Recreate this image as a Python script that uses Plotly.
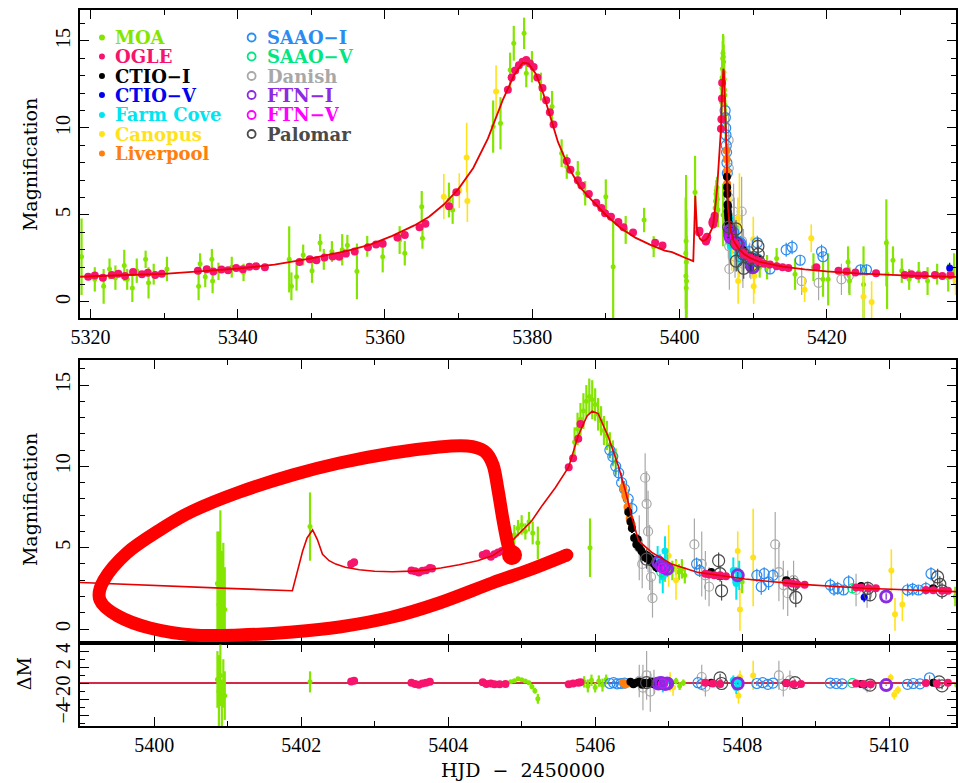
import plotly.graph_objects as go

# ---------------- model light curve ----------------
model_t = [5318.6, 5320, 5325, 5330, 5335, 5340, 5345, 5350, 5355, 5358, 5361, 5364, 5366, 5368,
           5370, 5372, 5374, 5376, 5377.5, 5378.7, 5379.5, 5380.5, 5381.5, 5382.5, 5383.5, 5385,
           5386.5, 5388, 5390, 5392, 5394, 5396, 5398, 5399, 5400, 5401, 5401.88, 5401.95, 5402.02,
           5402.08, 5402.155, 5402.22, 5402.29, 5402.38, 5402.47, 5402.6, 5402.79, 5403.0, 5403.24,
           5403.5, 5403.69, 5403.9, 5404.15, 5404.4, 5404.6, 5404.8, 5404.96, 5405.14, 5405.28,
           5405.46, 5405.64, 5405.77, 5405.89, 5405.96, 5406.04, 5406.18, 5406.32, 5406.41, 5406.5,
           5406.59, 5406.77, 5407.04, 5407.4, 5408.04, 5408.76, 5409.66, 5410.9, 5412, 5414, 5417,
           5420, 5424, 5428, 5432, 5438]
model_A = [1.45, 1.48, 1.55, 1.62, 1.75, 1.92, 2.15, 2.5, 2.95, 3.3, 3.8, 4.4, 4.9, 5.6,
           6.5, 7.7, 9.4, 11.6, 13.0, 13.75, 13.7, 13.1, 12.0, 10.6, 9.2, 7.7,
           6.6, 5.9, 5.0, 4.25, 3.7, 3.3, 2.95, 2.86, 2.7, 2.5, 2.35, 3.5, 4.8,
           5.6, 6.1, 5.5, 4.6, 4.2, 3.99, 3.8, 3.64, 3.55, 3.52,
           3.56, 3.62, 3.75, 3.95, 4.2, 4.5, 5.1, 5.84, 6.67, 7.6,
           8.7, 9.96, 11.9, 13.1, 13.4, 13.25, 11.8, 9.96, 8.52, 6.87,
           5.43, 4.71, 3.99, 3.48, 3.07, 2.76, 2.51, 2.30, 2.2, 2.03, 1.88,
           1.76, 1.65, 1.57, 1.5, 1.44]

# ---------------- MOA ----------------
moa_t = [5318.8, 5320.6, 5321.8, 5322.6, 5323.4, 5324.6, 5325.0, 5325.7, 5326.3, 5327.5, 5327.9,
         5328.6, 5330.4, 5334.7, 5334.9, 5335.6, 5336.5, 5336.6, 5337.4, 5339.2, 5340.8, 5347.0,
         5347.3, 5348.0, 5348.9, 5350.1, 5351.2, 5351.7, 5352.8, 5354.2, 5354.9, 5356.2, 5357.6,
         5359.7, 5362.0, 5362.7, 5365.0, 5365.1, 5368.7, 5369.2, 5374.7, 5375.7, 5377.0, 5377.5,
         5378.9, 5379.2, 5379.97, 5381.2, 5382.7, 5384.0, 5384.7, 5386.2, 5387.2, 5390.0, 5391.0,
         5392.7, 5395.2, 5396.5,
         5400.86, 5400.88, 5400.90, 5400.92, 5400.94, 5400.96, 5402.12,
         5404.85, 5404.90, 5404.95, 5405.00, 5405.05, 5405.10, 5405.15, 5405.22, 5405.93,
         5405.72, 5405.76, 5405.80, 5405.84, 5405.88, 5405.92, 5405.96, 5406.00, 5406.04, 5406.08,
         5406.12, 5406.16, 5406.20, 5406.24, 5406.28,
         5406.95, 5407.05, 5407.10, 5407.14, 5407.18, 5407.22, 5407.95, 5408.00, 5410.9,
         5411.9, 5413.2, 5415.7, 5418.2, 5419.5, 5420.2, 5422.9, 5423.1, 5425.0, 5428.1, 5428.2,
         5429.0, 5430.2, 5431.2, 5432.5, 5433.7, 5435.0, 5436.5, 5437.3]
moa_A = [2.6, 1.3, 0.9, 1.9, 1.4, 2.1, 1.3, 0.8, 1.8, 2.45, 1.1,
         1.6, 1.9, 0.9, 2.2, 1.45, 2.45, 1.2, 1.76, 2.0, 1.7, 2.45,
         0.9, 1.45, 2.7, 1.8, 3.4, 2.45, 2.9, 3.0, 3.26, 1.76, 3.2,
         2.6, 3.56, 2.8, 5.48, 3.66, 5.86, 5.29, 10.08, 10.27, 13.33, 14.87,
         15.44, 13.14, 13.52, 12.38, 11.23, 8.55, 7.78, 7.4, 6.25, 6.05, 2.03,
         4.14, 4.71, 3.18,
         2.8, 1.5, 3.5, 0.8, 2.3, 1.2, 6.3,
         5.4, 5.8, 6.2, 6.4, 6.0, 6.6, 5.9, 5.3, 5.0,
         11.5, 12.3, 12.9, 13.4, 14.0, 14.3, 14.1, 13.8, 13.2, 12.8,
         12.2, 11.9, 11.3, 10.8, 10.3,
         3.4, 3.6, 3.8, 3.5, 3.7, 3.3, 3.3, 2.9, 2.0,
         2.0, 2.5, 1.6, 2.0, 1.3, 1.3, 2.3, 1.2, 1.0, 3.4, 1.6,
         2.4, 1.8, 1.3, 1.7, 1.2, 1.6, 1.4, 1.9]
moa_e = [2.2, 0.7, 1.0, 0.6, 0.7, 0.9, 0.6, 0.8, 0.7, 0.5, 0.9,
         0.6, 0.7, 0.8, 0.6, 0.6, 0.6, 0.7, 0.5, 0.6, 0.5, 1.9,
         0.8, 0.8, 0.6, 0.7, 0.5, 0.6, 0.6, 0.9, 0.6, 1.6, 0.6,
         0.9, 0.8, 0.7, 0.9, 0.6, 1.0, 0.8, 1.5, 1.5, 1.0, 1.0,
         0.9, 0.8, 0.9, 0.8, 0.9, 0.8, 0.7, 0.7, 0.7, 1.0, 3.0,
         0.8, 0.7, 0.6,
         3.2, 4.5, 3.8, 4.0, 3.0, 2.6, 2.1,
         0.5, 0.6, 0.5, 0.6, 0.5, 0.6, 0.7, 1.0, 1.8,
         0.9, 1.0, 1.0, 1.1, 1.0, 1.1, 1.2, 1.0, 1.0, 0.9,
         0.9, 0.9, 0.8, 0.8, 0.8,
         0.5, 0.6, 0.5, 0.5, 0.6, 0.5, 0.6, 0.7, 0.6,
         0.7, 0.6, 0.9, 0.8, 1.0, 1.5, 0.9, 0.8, 2.2, 2.5, 2.0,
         0.8, 0.7, 0.6, 0.6, 0.8, 0.6, 0.8, 0.9]
moa_rt = [5400.86, 5400.88, 5400.90, 5400.92, 5400.94, 5400.96, 5402.12, 5404.85, 5404.90, 5404.95,
          5405.00, 5405.05, 5405.10, 5405.14, 5405.18, 5405.22, 5405.85, 5405.90, 5405.95, 5406.00,
          5406.05, 5406.10, 5406.15, 5407.10, 5407.15, 5407.20, 5407.95, 5410.92]
moa_rd = [0.5, -1.0, 1.0, -2.5, 0.0, -1.5, 0.2, 0.2, 0.35, 0.6,
          0.45, 0.3, 0.1, -0.4, -0.9, -1.9, 0.2, -0.3, 0.4, -0.5,
          0.3, -0.2, 0.5, 0.3, -0.3, 0.1, 0.0, -0.2]
moa_re = [3.5, 4.5, 3.8, 3.0, 3.0, 3.0, 1.3, 0.15, 0.15, 0.2,
          0.2, 0.2, 0.25, 0.3, 0.35, 0.6, 0.7, 0.8, 0.7, 0.6,
          0.7, 0.8, 0.6, 0.4, 0.5, 0.4, 0.5, 0.3]

# ---------------- OGLE ----------------
ogle_t = [5319.7, 5320.6, 5321.7, 5322.9, 5323.8, 5324.7, 5325.8, 5327.0, 5327.8, 5328.8, 5329.7,
          5334.6, 5335.8, 5336.7, 5337.8, 5338.7, 5339.8, 5340.7, 5341.6, 5342.5, 5343.7,
          5348.4, 5349.8, 5350.7, 5351.8, 5352.9, 5353.8, 5354.7, 5355.9, 5357.7, 5358.8,
          5359.7, 5361.7, 5362.7, 5364.7, 5365.5, 5368.7, 5369.7, 5376.7, 5377.2, 5377.7, 5378.2,
          5378.7, 5379.2, 5379.7, 5380.2, 5380.7, 5381.4, 5381.9, 5382.4, 5382.9, 5384.7, 5385.2,
          5386.2, 5386.7, 5387.7, 5388.7, 5389.4, 5389.9, 5390.7, 5391.7, 5392.4, 5393.7, 5396.7,
          5397.7,
          5402.68, 5402.72, 5403.50, 5403.55, 5403.60, 5403.65, 5403.70, 5403.75, 5403.78,
          5404.47, 5404.52, 5404.58, 5404.63, 5404.68, 5404.73, 5404.78,
          5405.64, 5405.70, 5405.77, 5405.80,
          5407.50, 5407.55, 5407.62, 5407.70, 5407.78, 5408.60, 5408.68, 5408.75, 5408.85,
          5409.55, 5409.62, 5409.72, 5409.82, 5410.50, 5410.60, 5410.72, 5410.80,
          5411.5, 5412.3, 5413.2, 5414.0, 5414.8, 5418.6, 5421.6, 5422.7, 5423.9, 5426.7,
          5430.6, 5431.5, 5432.4, 5433.3, 5434.7, 5435.7, 5436.8]
ogle_A = [1.45, 1.52, 1.40, 1.55, 1.62, 1.50, 1.72, 1.60, 1.68, 1.55, 1.62,
          1.80, 1.88, 1.75, 1.86, 1.82, 1.95, 1.88, 2.02, 2.05, 2.00,
          2.30, 2.45, 2.40, 2.55, 2.62, 2.60, 2.78, 2.90, 3.15, 3.30,
          3.35, 3.7, 3.85, 4.3, 4.5, 5.5, 6.3, 12.2, 12.9, 13.3, 13.6,
          13.8, 13.9, 13.7, 13.5, 12.9, 12.3, 11.6, 10.9, 10.2, 8.1, 7.6,
          7.0, 6.7, 6.2, 5.7, 5.4, 5.1, 4.9, 4.6, 4.3, 4.0, 3.4,
          3.25,
          4.0, 4.1, 3.60, 3.55, 3.48, 3.58, 3.62, 3.75, 3.72,
          4.55, 4.65, 4.45, 4.6, 4.7, 4.8, 4.95,
          9.95, 10.5, 11.7, 12.6,
          3.4, 3.35, 3.3, 3.3, 3.25, 2.85, 2.8, 2.75, 2.72,
          2.55, 2.55, 2.5, 2.5, 2.4, 2.38, 2.35, 2.35,
          2.2, 2.15, 2.05, 2.0, 1.95, 2.0, 1.8, 1.75, 1.7, 1.65,
          1.55, 1.6, 1.52, 1.55, 1.55, 1.5, 1.55]
ogle_rt = [5402.68, 5402.72, 5403.50, 5403.55, 5403.60, 5403.65, 5403.70, 5403.75,
           5404.47, 5404.52, 5404.58, 5404.63, 5404.70, 5404.78, 5405.64, 5405.70, 5405.77, 5405.80,
           5407.50, 5407.60, 5407.70, 5408.60, 5408.70, 5408.80, 5409.55, 5409.65, 5409.75,
           5410.50, 5410.65, 5410.80]
ogle_rd = [0.25, 0.35, 0.1, -0.05, -0.15, 0.0, 0.1, 0.2,
           0.15, -0.05, 0.0, -0.1, -0.1, -0.05, -0.1, 0.0, 0.1, 0.15,
           0.1, 0.0, -0.05, 0.05, -0.1, -0.05, 0.0, -0.05, -0.1,
           0.05, 0.0, 0.1]

# ---------------- CTIO-I ----------------
ctioi_t = [5406.45, 5406.48, 5406.50, 5406.53, 5406.56, 5406.58, 5406.60, 5406.63, 5406.66, 5406.68,
           5406.71, 5406.74, 5406.77, 5406.80, 5406.83, 5406.86, 5407.58, 5408.60, 5409.62, 5410.60]
ctioi_A = [7.2, 6.6, 6.2, 5.6, 5.2, 5.5, 5.0, 4.8, 4.6, 4.4,
           4.5, 4.2, 4.3, 4.0, 3.8, 3.9, 3.5, 3.0, 2.65, 2.5]
ctioi_e = [0.3, 0.3, 0.3, 0.3, 0.3, 0.3, 0.3, 0.3, 0.3, 0.3,
           0.3, 0.3, 0.3, 0.3, 0.3, 0.3, 0.2, 0.2, 0.2, 0.2]
ctioi_rt = [5406.48, 5406.52, 5406.56, 5406.60, 5406.64, 5406.68, 5406.72, 5406.76, 5406.80, 5406.84,
            5407.58, 5408.60, 5409.62, 5410.60]
ctioi_rd = [0.2, -0.1, 0.1, 0.25, -0.15, 0.1, 0.0, 0.2, -0.1, 0.05, 0.1, 0.05, -0.05, 0.1]

# ---------------- CTIO-V ----------------
ctiov_t = [5409.66, 5436.7]
ctiov_A = [1.95, 1.95]
ctiov_e = [0.3, 0.3]
ctiov_rt = [5409.66]
ctiov_rd = [-0.2]

# ---------------- Farm Cove ----------------
farm_t = [5406.85, 5406.88, 5406.92, 5406.95, 5406.98, 5407.88, 5407.92, 5407.96]
farm_A = [4.3, 3.7, 3.2, 4.8, 3.9, 3.6, 2.8, 3.3]
farm_e = [0.8, 0.9, 1.0, 0.9, 0.7, 0.8, 1.0, 0.9]
farm_rt = [5406.88, 5406.92, 5406.96, 5407.88, 5407.92, 5407.96]
farm_rd = [0.3, -0.4, 0.2, 0.4, -0.5, 0.1]
farm_re = [0.6, 0.7, 0.6, 0.6, 0.8, 0.6]

# ---------------- Canopus ----------------
can_t = [5368.0, 5370.1, 5371.1, 5371.2, 5375.1, 5407.0, 5407.1, 5407.94, 5407.97, 5408.15,
         5410.03, 5410.08, 5410.18, 5417.0, 5417.9, 5425.0, 5426.1, 5437.5]
can_A = [6.05, 6.4, 8.3, 5.8, 12.1, 4.5, 3.0, 4.8, 1.2, 4.4,
         3.6, 0.9, 1.5, 0.7, 3.66, 0.3, 0.0, 1.2]
can_e = [1.3, 1.0, 2.0, 1.2, 1.5, 1.9, 1.2, 1.2, 1.3, 3.0,
         1.3, 1.0, 1.0, 0.7, 0.8, 1.5, 1.2, 0.8]
can_rt = [5407.02, 5407.06, 5407.95, 5407.97, 5408.15, 5410.02, 5410.07, 5410.12]
can_rd = [0.2, -0.5, -1.5, 0.8, 1.0, 0.7, -1.4, -0.8]
can_re = [1.2, 1.0, 1.0, 0.8, 1.8, 0.5, 0.6, 0.5]

# ---------------- Liverpool ----------------
liv_t = [5406.38, 5406.41, 5406.44, 5406.47, 5406.50]
liv_A = [8.7, 8.2, 7.5, 6.8, 6.4]
liv_e = [0.4, 0.4, 0.4, 0.4, 0.4]
liv_rt = [5406.38, 5406.41, 5406.44, 5406.47]
liv_rd = [0.1, -0.1, 0.0, 0.1]
liv_re = [0.4, 0.5, 0.4, 0.4]

# ---------------- SAAO-I ----------------
saaoi_t = [5406.20, 5406.24, 5406.28, 5406.32, 5406.36, 5406.40, 5406.45, 5406.50,
           5407.38, 5407.42, 5408.20, 5408.26, 5408.30, 5408.36, 5408.42,
           5409.20, 5409.25, 5409.30, 5409.38, 5409.45,
           5410.25, 5410.32, 5410.40, 5410.50, 5410.57,
           5412.3, 5414.5, 5415.3, 5416.4, 5419.3, 5419.5, 5424.6, 5425.4]
saaoi_A = [11.0, 10.6, 10.0, 9.6, 9.0, 8.6, 8.0, 7.4,
           4.0, 3.6, 3.3, 2.6, 3.4, 2.9, 3.3,
           2.7, 2.45, 2.5, 2.4, 2.9,
           2.4, 2.45, 2.4, 2.5, 3.4,
           1.9, 3.0, 3.15, 2.4, 2.9, 2.6, 1.85, 1.85]
saaoi_e = [0.5, 0.5, 0.6, 0.5, 0.6, 0.5, 0.6, 0.6,
           0.4, 0.4, 0.4, 0.5, 0.4, 0.5, 0.4,
           0.4, 0.4, 0.4, 0.3, 0.4,
           0.4, 0.4, 0.3, 0.4, 0.4,
           0.3, 0.4, 0.4, 0.3, 0.4, 0.3, 0.3, 0.3]
saaoi_rt = [5406.20, 5406.25, 5406.30, 5406.35, 5406.40, 5407.40, 5407.45, 5408.20, 5408.28,
            5408.35, 5408.42, 5409.20, 5409.28, 5409.36, 5410.25, 5410.33, 5410.42, 5410.55]
saaoi_rd = [0.0, 0.1, -0.05, 0.0, 0.05, 0.1, -0.1, 0.0, 0.1,
            -0.1, 0.05, 0.05, 0.0, -0.05, -0.1, 0.0, -0.05, 0.7]
saaoi_re = [0.15, 0.15, 0.15, 0.15, 0.15, 0.2, 0.2, 0.3, 0.25,
            0.3, 0.3, 0.3, 0.25, 0.25, 0.3, 0.2, 0.25, 0.3]

# ---------------- SAAO-V ----------------
saaov_t = [5406.9, 5409.5]
saaov_A = [3.5, 2.5]
saaov_e = [0.4, 0.3]
saaov_rt = [5409.5]
saaov_rd = [0.05]

# ---------------- Danish ----------------
dan_t = [5406.60, 5406.64, 5406.68, 5406.70, 5406.72, 5406.74, 5406.76, 5406.78,
         5407.35, 5407.45, 5407.50, 5407.55, 5408.45, 5408.50, 5408.56, 5408.62, 5408.70,
         5409.55, 5409.70, 5416.6, 5418.9, 5422.0, 5423.0]
dan_A = [5.0, 4.0, 9.3, 7.7, 6.0, 4.4, 3.2, 1.9,
         5.2, 4.0, 3.3, 2.6, 5.2, 3.5, 2.7, 2.2, 3.0,
         2.4, 2.1, 1.2, 1.1, 1.3, 1.5]
dan_e = [2.0, 1.5, 1.5, 2.0, 2.5, 2.0, 1.5, 1.2,
         1.6, 2.0, 1.5, 1.2, 2.0, 1.8, 1.5, 1.4, 1.2,
         1.0, 0.8, 0.8, 1.0, 0.9, 1.0]
dan_rt = [5406.60, 5406.65, 5406.70, 5406.75, 5406.80, 5407.45, 5407.50, 5408.50, 5408.56,
          5408.65, 5409.70]
dan_rd = [0.3, -0.5, 1.0, -1.0, 0.2, 0.8, -0.4, 1.0, -0.3, 0.4, -0.3]
dan_re = [2.0, 2.8, 3.0, 2.5, 1.5, 1.5, 1.2, 1.8, 1.3, 1.2, 0.8]

# ---------------- FTN-I ----------------
ftni_t = [5406.86, 5406.90, 5406.94, 5406.98, 5407.94, 5409.96]
ftni_A = [4.1, 3.9, 3.8, 3.7, 3.3, 2.0]
ftni_e = [0.2, 0.2, 0.2, 0.2, 0.2, 0.2]
ftni_rt = [5406.86, 5406.90, 5406.95, 5406.98, 5407.94, 5409.96]
ftni_rd = [0.0, 0.05, -0.05, 0.0, 0.0, -0.2]

# ---------------- FTN-V ----------------
ftnv_t = [5406.92]
ftnv_A = [3.75]
ftnv_e = [0.15]
ftnv_rt = [5406.92]
ftnv_rd = [0.0]

# ---------------- Palomar ----------------
pal_t = [5406.70, 5407.68, 5407.70, 5407.72, 5408.70, 5408.73, 5409.71, 5409.74, 5410.66, 5410.69, 5410.72]
pal_A = [4.3, 4.2, 3.4, 2.35, 2.75, 1.94, 2.5, 2.1, 3.2, 2.75, 2.35]
pal_e = [0.6, 0.5, 0.5, 0.6, 0.5, 0.6, 0.4, 0.4, 0.5, 0.5, 0.5]
pal_rt = [5406.70, 5407.70, 5407.72, 5408.72, 5409.74, 5410.68, 5410.72]
pal_rd = [0.1, 0.7, 0.0, 0.1, -0.2, 0.2, -0.3]
pal_re = [0.5, 0.5, 0.5, 0.4, 0.4, 0.4, 0.4]

legend_left = ["MOA", "OGLE", "CTIO\u2212I", "CTIO\u2212V", "Farm Cove", "Canopus", "Liverpool"]
legend_right = ["SAAO\u2212I", "SAAO\u2212V", "Danish", "FTN\u2212I", "FTN\u2212V", "Palomar"]

# ---------------- styles ----------------
C_MOA = "#84e600"; C_OGLE = "#f7146c"; C_CTIOI = "#000000"; C_CTIOV = "#0000ee"
C_FARM = "#00e5f0"; C_CAN = "#ffe21a"; C_LIV = "#ff7f0e"
C_SAAOI = "#2a8cf0"; C_SAAOV = "#00e680"; C_DAN = "#a8a8a8"; C_FTNI = "#8a2be2"
C_FTNV = "#ff00ff"; C_PAL = "#4a4a4a"
C_MODEL = "#e60000"

W, H = 958, 783
ML, MR, MT, MB = 80, 0, 10, 57
PW, PH = W - ML - MR, H - MT - MB


def px(x):
    return (x - ML) / PW


def py(y):
    return (H - MB - y) / PH


fig = go.Figure()


def add_obs(t, A, e, rt, rd, re, color, open_=False, size=6, ecol=None, ethick=1.3, lw=1.2):
    ecol = ecol or color
    if open_:
        marker = dict(symbol="circle-open", size=size, color=color, line=dict(width=lw, color=color))
    else:
        marker = dict(symbol="circle", size=size, color=color, line=dict(width=0))
    for xa, ya in (("x", "y"), ("x2", "y2")):
        fig.add_trace(go.Scatter(x=t, y=A, mode="markers", xaxis=xa, yaxis=ya, marker=marker,
                                 error_y=dict(type="data", array=e, width=0, thickness=ethick, color=ecol),
                                 showlegend=False, hoverinfo="skip"))
    if rt:
        if re is None:
            re = [0.08] * len(rt)
        fig.add_trace(go.Scatter(x=rt, y=rd, mode="markers", xaxis="x3", yaxis="y3", marker=marker,
                                 error_y=dict(type="data", array=re, width=0, thickness=ethick, color=ecol),
                                 showlegend=False, hoverinfo="skip"))


add_obs(dan_t, dan_A, dan_e, dan_rt, dan_rd, dan_re, C_DAN, open_=True, size=9, ethick=1.2)
add_obs(moa_t, moa_A, moa_e, moa_rt, moa_rd, moa_re, C_MOA, size=5, ethick=2.2)
add_obs(can_t, can_A, can_e, can_rt, can_rd, can_re, C_CAN, size=6, ethick=1.6)
add_obs(farm_t, farm_A, farm_e, farm_rt, farm_rd, farm_re, C_FARM, size=7, ethick=2.0)
add_obs(saaoi_t, saaoi_A, saaoi_e, saaoi_rt, saaoi_rd, saaoi_re, C_SAAOI, open_=True, size=10, ethick=1.2)
add_obs(saaov_t, saaov_A, saaov_e, saaov_rt, saaov_rd, None, C_SAAOV, open_=True, size=9)
add_obs(liv_t, liv_A, liv_e, liv_rt, liv_rd, liv_re, C_LIV, size=8, ethick=2.5)
add_obs(ctioi_t, ctioi_A, ctioi_e, ctioi_rt, ctioi_rd, None, C_CTIOI, size=8, ethick=2)
add_obs(ctiov_t, ctiov_A, ctiov_e, ctiov_rt, ctiov_rd, None, C_CTIOV, size=7)
add_obs(ftni_t, ftni_A, ftni_e, ftni_rt, ftni_rd, None, C_FTNI, open_=True, size=11, lw=3)
add_obs(ftnv_t, ftnv_A, ftnv_e, ftnv_rt, ftnv_rd, None, C_FTNV, open_=True, size=9)
add_obs(pal_t, pal_A, pal_e, pal_rt, pal_rd, pal_re, C_PAL, open_=True, size=12, ethick=1.2)
add_obs(ogle_t, ogle_A, [0.15] * len(ogle_t), ogle_rt, ogle_rd, None, C_OGLE, size=8, ethick=1.5)

for xa, ya, w in (("x", "y", 1.8), ("x2", "y2", 1.6)):
    fig.add_trace(go.Scatter(x=model_t, y=model_A, mode="lines", xaxis=xa, yaxis=ya,
                             line=dict(color=C_MODEL, width=w), showlegend=False, hoverinfo="skip"))

TICKFONT = dict(family="Liberation Serif", size=20, color="black")
axis_common = dict(showline=True, linecolor="black", linewidth=1.5, mirror="ticks", ticks="inside",
                   ticklen=9, tickwidth=1.2, tickcolor="black", showgrid=False, zeroline=False,
                   tickfont=TICKFONT)
MINOR = dict(ticklen=5, ticks="inside", tickcolor="black")

fig.update_layout(
    width=W, height=H, margin=dict(l=ML, r=MR, t=MT, b=MB),
    paper_bgcolor="white", plot_bgcolor="white", showlegend=False,
    xaxis=dict(domain=[0, 1], anchor="y", range=[5318.59, 5437.56], dtick=20, tick0=5320,
               minor=dict(dtick=10, **MINOR), **axis_common),
    yaxis=dict(domain=[py(318), py(10)], anchor="x", range=[-0.92, 16.78], dtick=5, tickangle=-90,
               minor=dict(dtick=1, **MINOR), **axis_common),
    xaxis2=dict(domain=[0, 1], anchor="y2", range=[5398.99, 5410.91], dtick=2, tick0=5400,
                showticklabels=False, minor=dict(dtick=1, **MINOR), **axis_common),
    yaxis2=dict(domain=[py(643), py(360)], anchor="x2", range=[-0.86, 16.54], dtick=5, tickangle=-90,
                minor=dict(dtick=1, **MINOR), **axis_common),
    xaxis3=dict(domain=[0, 1], anchor="y3", range=[5398.99, 5410.91], dtick=2, tick0=5400,
                minor=dict(dtick=1, **MINOR), **axis_common),
    yaxis3=dict(domain=[0, py(643)], anchor="x3", range=[-5.25, 5.0], dtick=2, tickangle=-90,
                minor=dict(dtick=1, **MINOR), **axis_common),
)
fig.layout.yaxis3.zeroline = True
fig.layout.yaxis3.zerolinecolor = "#d42a4a"
fig.layout.yaxis3.zerolinewidth = 1.5

TITLEFONT = dict(family="DejaVu Serif", size=19, color="black")
ann = []


def title(x, y, text, angle=0):
    ann.append(dict(x=px(x), y=py(y), xref="paper", yref="paper", text=text, textangle=angle,
                    xanchor="center", yanchor="middle", showarrow=False, font=TITLEFONT))


title(30, 165, "Magnification", -90)
title(30, 500, "Magnification", -90)
title(24, 674, "\u0394M", -90)
title(524, 770, "HJD\u00a0\u00a0\u2212\u00a0\u00a02450000")

shapes = []
left_cols = [C_MOA, C_OGLE, C_CTIOI, C_CTIOV, C_FARM, C_CAN, C_LIV]
right_cols = [C_SAAOI, C_SAAOV, C_DAN, C_FTNI, C_FTNV, C_PAL]
rows = [37.5, 56.5, 76, 95, 115, 134, 153.5]
LFONT = "DejaVu Serif"
for i, (name, col) in enumerate(zip(legend_left, left_cols)):
    shapes.append(dict(type="circle", xref="paper", yref="paper", xsizemode="pixel", ysizemode="pixel",
                       xanchor=px(102), yanchor=py(rows[i]), x0=-3, x1=3, y0=-3, y1=3,
                       fillcolor=col, line=dict(width=0)))
    ann.append(dict(x=px(113), y=py(rows[i]), xref="paper", yref="paper", text="<b>%s</b>" % name,
                    xanchor="left", yanchor="middle", showarrow=False,
                    font=dict(family=LFONT, size=18, color=col)))
for i, (name, col) in enumerate(zip(legend_right, right_cols)):
    shapes.append(dict(type="circle", xref="paper", yref="paper", xsizemode="pixel", ysizemode="pixel",
                       xanchor=px(252), yanchor=py(rows[i]), x0=-4, x1=4, y0=-4, y1=4,
                       fillcolor="rgba(0,0,0,0)", line=dict(width=1.8, color=col)))
    ann.append(dict(x=px(265), y=py(rows[i]), xref="paper", yref="paper", text="<b>%s</b>" % name,
                    xanchor="left", yanchor="middle", showarrow=False,
                    font=dict(family=LFONT, size=18, color=col)))

# hand-drawn red loop (annotation mark), in image pixel coordinates
loop = [(568, 555), (530, 570), (493, 583), (440, 603), (393, 617), (340, 627), (293, 632), (240, 635),
        (193, 635), (150, 628), (118, 616), (100, 600), (104, 580), (127, 553), (160, 530), (193, 511),
        (240, 492), (293, 475), (340, 463), (393, 453), (440, 447), (468, 446), (485, 451), (494, 465),
        (499, 490), (504, 520), (509, 545), (514, 557)]
pts = [(px(a), py(b)) for a, b in loop]
d = "M %.5f,%.5f" % pts[0]
for i in range(len(pts) - 1):
    p0 = pts[i - 1] if i > 0 else pts[i]
    p1 = pts[i]
    p2 = pts[i + 1]
    p3 = pts[i + 2] if i + 2 < len(pts) else pts[i + 1]
    c1 = (p1[0] + (p2[0] - p0[0]) / 6, p1[1] + (p2[1] - p0[1]) / 6)
    c2 = (p2[0] - (p3[0] - p1[0]) / 6, p2[1] - (p3[1] - p1[1]) / 6)
    d += " C %.5f,%.5f %.5f,%.5f %.5f,%.5f" % (c1 + c2 + p2)
shapes.append(dict(type="path", path=d, xref="paper", yref="paper", line=dict(color="#ff0000", width=13),
                   layer="above"))
for (cx, cy, r) in [(568, 555, 6.5), (513, 555, 10)]:
    shapes.append(dict(type="circle", xref="paper", yref="paper", xsizemode="pixel", ysizemode="pixel",
                       xanchor=px(cx), yanchor=py(cy), x0=-r, x1=r, y0=-r, y1=r,
                       fillcolor="#ff0000", line=dict(width=0), layer="above"))

fig.update_layout(annotations=ann, shapes=shapes)
fig.write_html("out.html")
